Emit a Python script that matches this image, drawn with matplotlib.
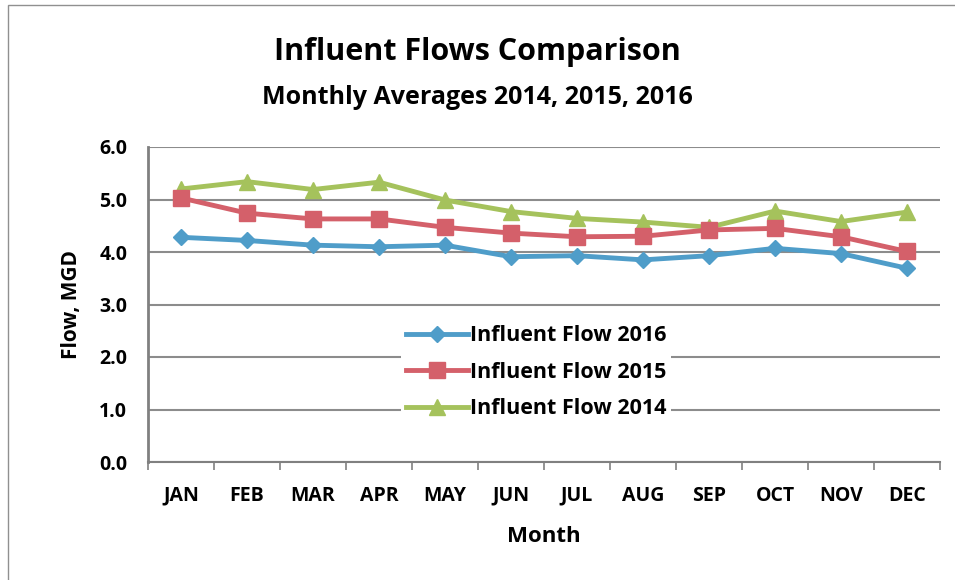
import matplotlib
matplotlib.use("Agg")
import matplotlib.pyplot as plt
from matplotlib.patches import Rectangle

months = ["JAN", "FEB", "MAR", "APR", "MAY", "JUN", "JUL", "AUG", "SEP", "OCT", "NOV", "DEC"]
flow_2016 = [4.28, 4.22, 4.13, 4.10, 4.13, 3.91, 3.93, 3.85, 3.93, 4.07, 3.97, 3.69]
flow_2015 = [5.03, 4.74, 4.63, 4.63, 4.47, 4.36, 4.29, 4.30, 4.42, 4.45, 4.29, 4.01]
flow_2014 = [5.20, 5.34, 5.19, 5.33, 4.99, 4.77, 4.64, 4.57, 4.47, 4.78, 4.58, 4.76]
yticks = [0.0, 1.0, 2.0, 3.0, 4.0, 5.0, 6.0]

plt.rcParams['font.family'] = ['Open Sans', 'DejaVu Sans']

fig = plt.figure(figsize=(9.55, 5.8), dpi=100)
W, H = 955, 580
ax = fig.add_axes([148 / W, 1 - 462 / H, (940 - 148) / W, (462 - 147) / H])

x = list(range(len(months)))
ax.plot(x, flow_2016, color="#4F9DC9", lw=3.5, marker="D", ms=8, label="Influent Flow 2016", zorder=5)
ax.plot(x, flow_2015, color="#D4606A", lw=3.5, marker="s", ms=11, label="Influent Flow 2015", zorder=4)
ax.plot(x, flow_2014, color="#A5C25C", lw=3.5, marker="^", ms=11, label="Influent Flow 2014", zorder=3)

ax.set_xlim(-0.5, 11.5)
ax.set_ylim(0, 6)
ax.set_yticks(yticks)
ax.set_yticklabels([f"{v:.1f}" for v in yticks], fontsize=14, fontweight="bold")
ax.set_xticks(x)
ax.set_xticklabels(months, fontsize=14, fontweight="bold")
ax.set_xticks([i - 0.5 for i in range(13)], minor=True)
ax.tick_params(axis="x", which="major", length=0, pad=17)
ax.tick_params(axis="x", which="minor", length=6, color="#808080", width=1.2)
ax.tick_params(axis="y", length=0, pad=15)

ax.grid(axis="y", color="#8C8C8C", lw=1.5)
ax.set_axisbelow(True)
for s in ["top", "right"]:
    ax.spines[s].set_visible(False)
ax.spines["left"].set_color("#808080")
ax.spines["left"].set_linewidth(2)
ax.spines["bottom"].set_color("#808080")
ax.spines["bottom"].set_linewidth(1.5)

ax.set_xlabel("Month", fontsize=16, fontweight="bold", labelpad=15)
ax.set_ylabel("Flow, MGD", fontsize=15, fontweight="bold", labelpad=12)

leg = ax.legend(loc="center", bbox_to_anchor=(0.49, 0.285), frameon=True, fontsize=15.5,
                handlelength=2.9, handletextpad=0.1, labelspacing=0.72, borderpad=0.2)
leg.get_frame().set_edgecolor("none")
leg.get_frame().set_facecolor("white")
leg.get_frame().set_alpha(1)
for t in leg.get_texts():
    t.set_fontweight("bold")

fig.text(0.5, 1 - 52 / H, "Influent Flows Comparison", ha="center", va="center",
         fontsize=22, fontweight="bold")
fig.text(0.5, 1 - 97 / H, "Monthly Averages 2014, 2015, 2016", ha="center", va="center",
         fontsize=18, fontweight="bold")

fig.patches.append(Rectangle((8 / W, -0.01), 1.0, 1 - 5 / H + 0.01, transform=fig.transFigure,
                             fill=False, edgecolor="#909090", lw=1))

fig.savefig("out.png", dpi=100, facecolor="white")
